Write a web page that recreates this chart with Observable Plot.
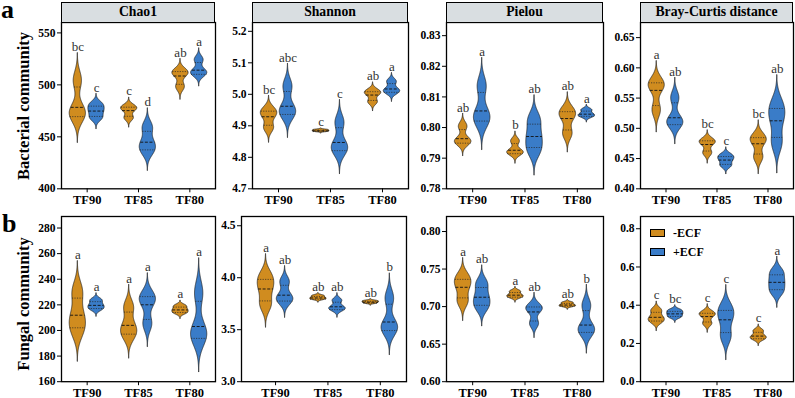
<!DOCTYPE html>
<html><head><meta charset="utf-8">
<script src="https://cdn.jsdelivr.net/npm/d3@7"></script>
<script src="https://cdn.jsdelivr.net/npm/@observablehq/plot@0.6"></script>
<style>
body{margin:0;background:#fff;}
#root{position:relative;width:795px;height:398px;overflow:hidden;font-family:'Liberation Serif','Times New Roman',serif;color:#000;}
.panel{position:absolute;}
.strip{position:absolute;box-sizing:border-box;border:1.2px solid #000;background:#D9DEE1;font-weight:bold;font-size:13.7px;text-align:center;line-height:18px;}
.ytitle{position:absolute;font-weight:bold;font-size:16.5px;white-space:nowrap;transform:translate(-50%,-50%) rotate(-90deg);}
.tag{position:absolute;font-weight:bold;font-size:26px;line-height:0.7;}
.leg{position:absolute;box-sizing:border-box;border:1px solid #000;width:15px;height:8px;}
.legt{position:absolute;font-weight:bold;font-size:12px;line-height:12px;}
.panel text.sig{fill:#333333 !important;}
</style></head><body><div id="root"></div><script>
// ---------- data ----------
const groups = ["TF90", "TF85", "TF80"];
const treatments = ["-ECF", "+ECF"];
// replicate values, order: TF90 -ECF, TF90 +ECF, TF85 -ECF, TF85 +ECF, TF80 -ECF, TF80 +ECF
const bacChao1 = [[471,474,504],[468,475,481],[468,476,479],[436,444,459],[498,510,513],[510,513,524]];
const bacShannon = [[4.893,4.932,4.95],[4.935,4.955,5.025],[4.881,4.884,4.887],[4.82,4.84,4.91],[4.975,5.0,5.01],[5.005,5.015,5.04]];
const bacPielou = [[0.795,0.7958,0.8003],[0.802,0.8045,0.8135],[0.7915,0.7922,0.7955],[0.7925,0.797,0.8025],[0.798,0.8035,0.8055],[0.8035,0.8043,0.8057]];
const bacBray = [[0.530,0.568,0.575],[0.508,0.512,0.550],[0.459,0.475,0.48],[0.438,0.448,0.455],[0.452,0.477,0.486],[0.476,0.515,0.538]];
const funChao1 = [[200,211,230],[216.5,219.5,223.5],[196,203,218],[205,222,227],[213.5,216,219],[195,199,229]];
const funShannon = [[3.74,3.90,4.01],[3.77,3.82,3.96],[3.79,3.805,3.825],[3.69,3.715,3.78],[3.752,3.765,3.776],[3.50,3.54,3.80]];
const funPielou = [[0.707,0.727,0.739],[0.699,0.712,0.730],[0.712,0.715,0.720],[0.677,0.695,0.700],[0.700,0.702,0.705],[0.666,0.672,0.701]];
const funBray = [[0.313,0.335,0.372],[0.337,0.355,0.372],[0.303,0.345,0.36],[0.235,0.33,0.385],[0.222,0.237,0.265],[0.47,0.52,0.572]];
// significance letters
const bacChao1Letters = ["bc","c","c","d","ab","a"];
const bacShannonLetters = ["bc","abc","c","c","ab","a"];
const bacPielouLetters = ["ab","a","b","ab","ab","a"];
const bacBrayLetters = ["a","ab","bc","c","bc","ab"];
const funChao1Letters = ["a","a","a","a","a","a"];
const funShannonLetters = ["a","ab","ab","ab","ab","b"];
const funPielouLetters = ["a","ab","a","ab","ab","b"];
const funBrayLetters = ["c","bc","c","c","c","a"];
// titles and ticks
const metricTitles = ["Chao1", "Shannon", "Pielou", "Bray-Curtis distance"];
const rowTitles = ["Bacterial community", "Fungal community"];
const bacChao1Ticks = [400,450,500,550];
const bacShannonTicks = [4.7,4.8,4.9,5.0,5.1,5.2];
const bacPielouTicks = [0.78,0.79,0.80,0.81,0.82,0.83];
const bacBrayTicks = [0.40,0.45,0.50,0.55,0.60,0.65];
const funChao1Ticks = [160,180,200,220,240,260,280];
const funShannonTicks = [3.0,3.5,4.0,4.5];
const funPielouTicks = [0.60,0.65,0.70,0.75,0.80];
const funBrayTicks = [0.0,0.2,0.4,0.6,0.8];

// ---------- layout / style ----------
const COLORS = ["#D08C1F", "#3A7CC8"];
const LETTER_COLOR = "#333333";
const FONT = "'Liberation Serif', 'Times New Roman', serif";
const OFF = 0.182, HALF = 0.158;
const panels = [
  {vals: bacChao1, letters: bacChao1Letters, ticks: bacChao1Ticks, fmt: d3.format("d"), y: [400,560], box: [61,22,215,188.3], x: [0,3], title: metricTitles[0]},
  {vals: bacShannon, letters: bacShannonLetters, ticks: bacShannonTicks, fmt: d3.format(".1f"), y: [4.7,5.228], box: [252,22,408,188.3], x: [0,3], title: metricTitles[1]},
  {vals: bacPielou, letters: bacPielouLetters, ticks: bacPielouTicks, fmt: d3.format(".2f"), y: [0.78,0.8343], box: [446,22,603,188.3], x: [0,3], title: metricTitles[2]},
  {vals: bacBray, letters: bacBrayLetters, ticks: bacBrayTicks, fmt: d3.format(".2f"), y: [0.40,0.675], box: [640,22,793,188.3], x: [0,3], title: metricTitles[3]},
  {vals: funChao1, letters: funChao1Letters, ticks: funChao1Ticks, fmt: d3.format("d"), y: [160,289], box: [61,215.5,215,380.7], x: [0,3]},
  {vals: funShannon, letters: funShannonLetters, ticks: funShannonTicks, fmt: d3.format(".1f"), y: [3.0,4.589], box: [241,215.5,406,380.7], x: [-0.15,3]},
  {vals: funPielou, letters: funPielouLetters, ticks: funPielouTicks, fmt: d3.format(".2f"), y: [0.60,0.82], box: [446,215.5,603,380.7], x: [0,3]},
  {vals: funBray, letters: funBrayLetters, ticks: funBrayTicks, fmt: d3.format(".1f"), y: [0,0.864], box: [640,215.5,793,380.7], x: [0,3]}
];

// ---------- violin statistics (gaussian KDE, bw.nrd0, cut = 3, scale = width) ----------
function violinStats(values) {
  const s = values.slice().sort(d3.ascending);
  const n = s.length;
  const sd = d3.deviation(s);
  const iqr = d3.quantileSorted(s, 0.75) - d3.quantileSorted(s, 0.25);
  let lo = Math.min(sd, iqr / 1.34);
  if (!(lo > 0)) lo = sd || Math.abs(s[0]) || 1;
  const bw = 0.9 * lo * Math.pow(n, -0.2);
  const from = s[0] - 3 * bw, to = s[n - 1] + 3 * bw;
  const N = 220, pts = [];
  for (let k = 0; k < N; k++) {
    const y = from + (to - from) * k / (N - 1);
    let d = 0;
    for (const v of s) { const z = (y - v) / bw; d += Math.exp(-0.5 * z * z); }
    pts.push({y, d});
  }
  const dmax = d3.max(pts, p => p.d);
  pts.forEach(p => p.w = p.d / dmax);
  const total = d3.sum(pts, p => p.d);
  let c = 0;
  const cum = pts.map(p => (c += p.d) / total);
  const qs = [0.25, 0.5, 0.75].map(p => {
    const k = Math.max(1, cum.findIndex(v => v >= p));
    const t = (p - cum[k - 1]) / (cum[k] - cum[k - 1]);
    return {p, y: pts[k - 1].y + t * (pts[k].y - pts[k - 1].y), w: pts[k - 1].w + t * (pts[k].w - pts[k - 1].w)};
  });
  return {pts, qs, top: to};
}

const root = document.getElementById("root");
const ML = 40, MR = 2, MT = 1, MB = 22;

panels.forEach((P, pi) => {
  const area = [], quart = [], med = [], lab = [];
  P.vals.forEach((v, i) => {
    const g = Math.floor(i / 2), t = i % 2;
    const cx = g + 0.5 + (t ? OFF : -OFF);
    const st = violinStats(v);
    st.pts.forEach(p => area.push({id: i, y: p.y, x1: cx - HALF * p.w, x2: cx + HALF * p.w, color: COLORS[t]}));
    st.qs.forEach(q => (q.p === 0.5 ? med : quart).push({y: q.y, x1: cx - HALF * q.w, x2: cx + HALF * q.w}));
    lab.push({x: cx, y: st.top, label: P.letters[i], ink: LETTER_COLOR});
  });
  const [x0, y0, x1, y1] = P.box;
  const chart = Plot.plot({
    width: (x1 - x0) + ML + MR,
    height: (y1 - y0) + MT + MB,
    marginLeft: ML, marginRight: MR, marginTop: MT, marginBottom: MB,
    x: {domain: P.x},
    y: {domain: P.y},
    color: {type: "identity"},
    style: {fontFamily: FONT, color: "black", background: "transparent", overflow: "visible"},
    marks: [
      Plot.areaX(area, {y: "y", x1: "x1", x2: "x2", z: "id", fill: "color", stroke: "#1a1a1a", strokeWidth: 0.7, curve: "linear"}),
      Plot.ruleY(quart, {y: "y", x1: "x1", x2: "x2", stroke: "#222", strokeWidth: 0.7, strokeDasharray: "1.2,1.3"}),
      Plot.ruleY(med, {y: "y", x1: "x1", x2: "x2", stroke: "#111", strokeWidth: 0.9, strokeDasharray: "3,1.6"}),
      Plot.text(lab, {x: "x", y: "y", text: "label", dy: -2, lineAnchor: "bottom", fontSize: 13, fill: "ink", fontFamily: FONT}),
      Plot.axisY(P.ticks, {tickFormat: P.fmt, tickSize: 4, tickPadding: 2, fontSize: 11.5, fontWeight: "bold", fontFamily: FONT, label: null, strokeWidth: 1}),
      Plot.axisX([0.5, 1.5, 2.5], {tickFormat: d => groups[Math.round(d - 0.5)], tickSize: 4, tickPadding: 2, fontSize: 12.5, fontWeight: "bold", fontFamily: FONT, label: null, strokeWidth: 1}),
      Plot.frame({stroke: "black", strokeWidth: 1.3})
    ]
  });
  chart.classList.add("panel");
  chart.style.left = (x0 - ML) + "px";
  chart.style.top = (y0 - MT) + "px";
  root.appendChild(chart);
  if (P.title) {
    const s = document.createElement("div");
    s.className = "strip";
    s.style.left = x0 + "px"; s.style.top = "2px";
    s.style.width = (x1 - x0) + "px"; s.style.height = "21px";
    s.textContent = P.title;
    root.appendChild(s);
  }
});

// row titles and panel tags
[[rowTitles[0], 106], [rowTitles[1], 304]].forEach(([t, cy]) => {
  const d = document.createElement("div");
  d.className = "ytitle"; d.textContent = t;
  d.style.left = "24px"; d.style.top = cy + "px";
  root.appendChild(d);
});
[["a", 1, 1], ["b", 2, 215]].forEach(([t, x, y]) => {
  const d = document.createElement("div");
  d.className = "tag"; d.textContent = t;
  d.style.left = x + "px"; d.style.top = y + "px";
  root.appendChild(d);
});
// legend
treatments.forEach((t, i) => {
  const r = document.createElement("div");
  r.className = "leg"; r.style.background = COLORS[i];
  r.style.left = "650px"; r.style.top = (229 + i * 18.5) + "px";
  root.appendChild(r);
  const l = document.createElement("div");
  l.className = "legt"; l.textContent = t;
  l.style.left = "673px"; l.style.top = (227 + i * 18.5) + "px";
  root.appendChild(l);
});
</script></body></html>
